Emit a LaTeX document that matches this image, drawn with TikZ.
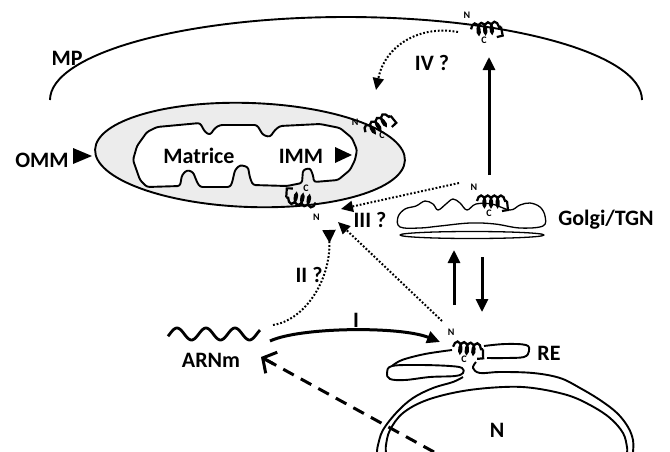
\documentclass[tikz,border=0pt]{standalone}
\usepackage{fontspec}
\setmainfont{Carlito}
\usetikzlibrary{arrows.meta,decorations.pathmorphing,calc}

\definecolor{mitofill}{RGB}{236,236,236}

\tikzstyle{membrane} = [line width=1.9pt, line join=round]
\tikzstyle{thinmem} = [line width=1.3pt, line join=round]
\tikzstyle{arrow} = [line width=3pt, -{Triangle[length=13pt,width=12pt]}]
\tikzstyle{dotline} = [line width=2pt, dash pattern=on 1.8pt off 1.9pt]
\tikzstyle{dotarrow} = [dotline, -{Triangle[length=12pt,width=11pt]}]
\tikzstyle{dashline} = [line width=3pt, dash pattern=on 12pt off 8pt]
\tikzstyle{lbl} = [font=\fontsize{22}{24}\selectfont\bfseries, inner sep=0pt, anchor=base]
\tikzstyle{termlabel} = [font=\fontsize{10}{11}\selectfont\bfseries, inner sep=0pt]
\tikzstyle{coilline} = [line width=2.3pt, decorate, decoration={coil, aspect=0.45, segment length=6.6pt, amplitude=5.5pt}]

% transmembrane protein: helix, C-terminal hook, N and C ends
\tikzset{
  tmprot/.pic={
    \draw[coilline] (-15,0) -- (15,0);
    \draw[line width=2.2pt] (15,0) -- (16,9) -- (10,10);
    \node[termlabel] at (-18,-14) {N};
    \node[termlabel] at (-3,12) {C};
  }
}

\begin{document}
\begin{tikzpicture}[x=1pt, y=-1pt]
\useasboundingbox (0,0) rectangle (670,451);

% plasma membrane
\draw[membrane] (50,100) arc[start angle=180, end angle=360, x radius=296, y radius=83];

% mitochondrion
\draw[membrane, fill=mitofill, rotate around={-2:(250,155)}] (250,155) ellipse[x radius=155, y radius=52];
\draw[membrane, fill=white, rounded corners=2.5pt] (133,160) -- (137,146) -- (147,132) -- (157,127) -- (200,123)
  -- (205,132) -- (210,135) -- (215,128) -- (220,125) -- (257,125) -- (263,135) -- (270,137) -- (275,130)
  -- (280,126) -- (320,124) -- (340,128) -- (352,138) -- (357,150) -- (355,160) -- (350,170) -- (338,180)
  -- (314,182) -- (313,175) -- (310,168) -- (303,170) -- (302,183) -- (287,186) -- (253,185) -- (250,178)
  -- (248,167) -- (240,165) -- (235,170) -- (232,183) -- (230,187) -- (200,187) -- (197,182) -- (193,172)
  -- (187,170) -- (182,175) -- (180,186) -- (147,187) -- (140,180) -- cycle;
\fill (73,148) -- (92,156) -- (73,164) -- cycle;
\fill (335,147) -- (352,155) -- (335,163) -- cycle;

% Golgi stack
\draw[thinmem] plot[smooth cycle, tension=0.6] coordinates {(400,227) (398,217) (405,209) (416,206) (425,201)
  (433,204) (438,210) (446,204) (453,199) (460,203) (467,210) (476,204) (492,204) (510,210) (520,205)
  (530,203) (540,207) (545,216) (543,226) (520,228) (495,224) (470,223) (440,226) (420,228)};
\draw[thinmem] (472,235) ellipse[x radius=72, y radius=3.5];

% ER cisternae
\draw[membrane] plot[smooth, tension=0.6] coordinates {(452,350) (425,354) (402,360) (392,366)};
\draw[membrane] plot[smooth cycle, tension=0.6] coordinates {(392,366) (420,365) (450,366) (462,368)
  (463,373) (455,376) (430,377) (405,380) (390,379) (387,373)};
\draw[membrane] plot[smooth, tension=0.6] coordinates {(484,346) (505,344) (526,345) (529,351) (524,357)
  (505,358) (487,358)};

% nuclear envelope
\draw[membrane] plot[smooth, tension=0.6] coordinates {(476,362) (473,368) (480,373) (500,372) (533,373)
  (560,378) (580,388) (600,400) (617,413) (628,427) (633,440) (633,452)};
\draw[membrane] plot[smooth, tension=0.6] coordinates {(463,377) (453,382) (433,388) (413,398) (397,412)
  (383,430) (378,445) (377,452)};
\draw[membrane] plot[smooth, tension=0.6] coordinates {(386,452) (386,445) (390,430) (403,413) (427,400)
  (463,391) (503,387) (533,388) (567,395) (590,405) (610,418) (623,433) (627,447) (627,452)};

% mRNA
\draw[line width=2.8pt] plot[domain=168:260, samples=80, smooth] (\x, {334-6*cos(12.414*(\x-177))});

% proteins
\pic[rotate=5] at (486,28) {tmprot};
\pic[rotate=33] at (378,124) {tmprot};
\pic[rotate=170] at (301,200) {tmprot};
\pic at (492,201) {tmprot};
\pic[rotate=-5] at (468,348) {tmprot};

% labels
\node[lbl] (mp) at (67,65) {MP};
\node[lbl] (omm) at (42,167) {OMM};
\node[lbl] (matrice) at (199,163) {Matrice};
\node[lbl] (imm) at (301,163) {IMM};
\node[lbl] (golgi) at (606,225) {Golgi/TGN};
\node[lbl] (re) at (549,360) {RE};
\node[lbl] (nucleus) at (497,437) {N};
\node[lbl] (arnm) at (211,367) {ARNm};
\node[lbl] (lblI) at (356,327) {I};
\node[lbl] (lblII) at (309,282) {II ?};
\node[lbl] (lblIII) at (370,227) {III ?};
\node[lbl] (lblIV) at (432,70) {IV ?};

% arrow ends
\coordinate (golgiUp) at (489,175);
\coordinate (pmIn) at (489,57);
\coordinate (reUp) at (454,305);
\coordinate (golgiIn) at (454,250);
\coordinate (golgiDown) at (482,257);
\coordinate (reIn) at (482,312);
\coordinate (rnaI) at (270,341);
\coordinate (reProt) at (440,342);
\coordinate (rnaII) at (273,325);
\coordinate (mitoII) at (329,230);
\coordinate (golgiProt) at (459,183);
\coordinate (mitoIIIa) at (341,209);
\coordinate (reOut) at (442,321);
\coordinate (mitoIIIb) at (338,222);
\coordinate (pmProt) at (458,32);
\coordinate (mitoIV) at (376,90);
\coordinate (nucOut) at (434,452);
\coordinate (rnaIn) at (261,357);

\draw[arrow] (golgiUp) -- (pmIn);
\draw[arrow] (reUp) -- (golgiIn);
\draw[arrow] (golgiDown) -- (reIn);
\draw[arrow] (rnaI) .. controls (300,327) and (400,326) .. (reProt);
\draw[dotline, -{Triangle[reversed,length=13pt,width=13pt]}] (rnaII) .. controls (305,320) and (331,280) .. (mitoII);
\draw[dotarrow] (golgiProt) -- (mitoIIIa);
\draw[dotarrow] (reOut) -- (mitoIIIb);
\draw[dotarrow] (pmProt) .. controls (420,25) and (385,45) .. (mitoIV);
\draw[dashline] (nucOut) -- (rnaIn);
\draw[line width=3pt, line cap=round, line join=miter, -{Straight Barb[length=10pt,width=24pt]}]
  ($(rnaIn)!14pt!(nucOut)$) -- (rnaIn);
\end{tikzpicture}
\end{document}
